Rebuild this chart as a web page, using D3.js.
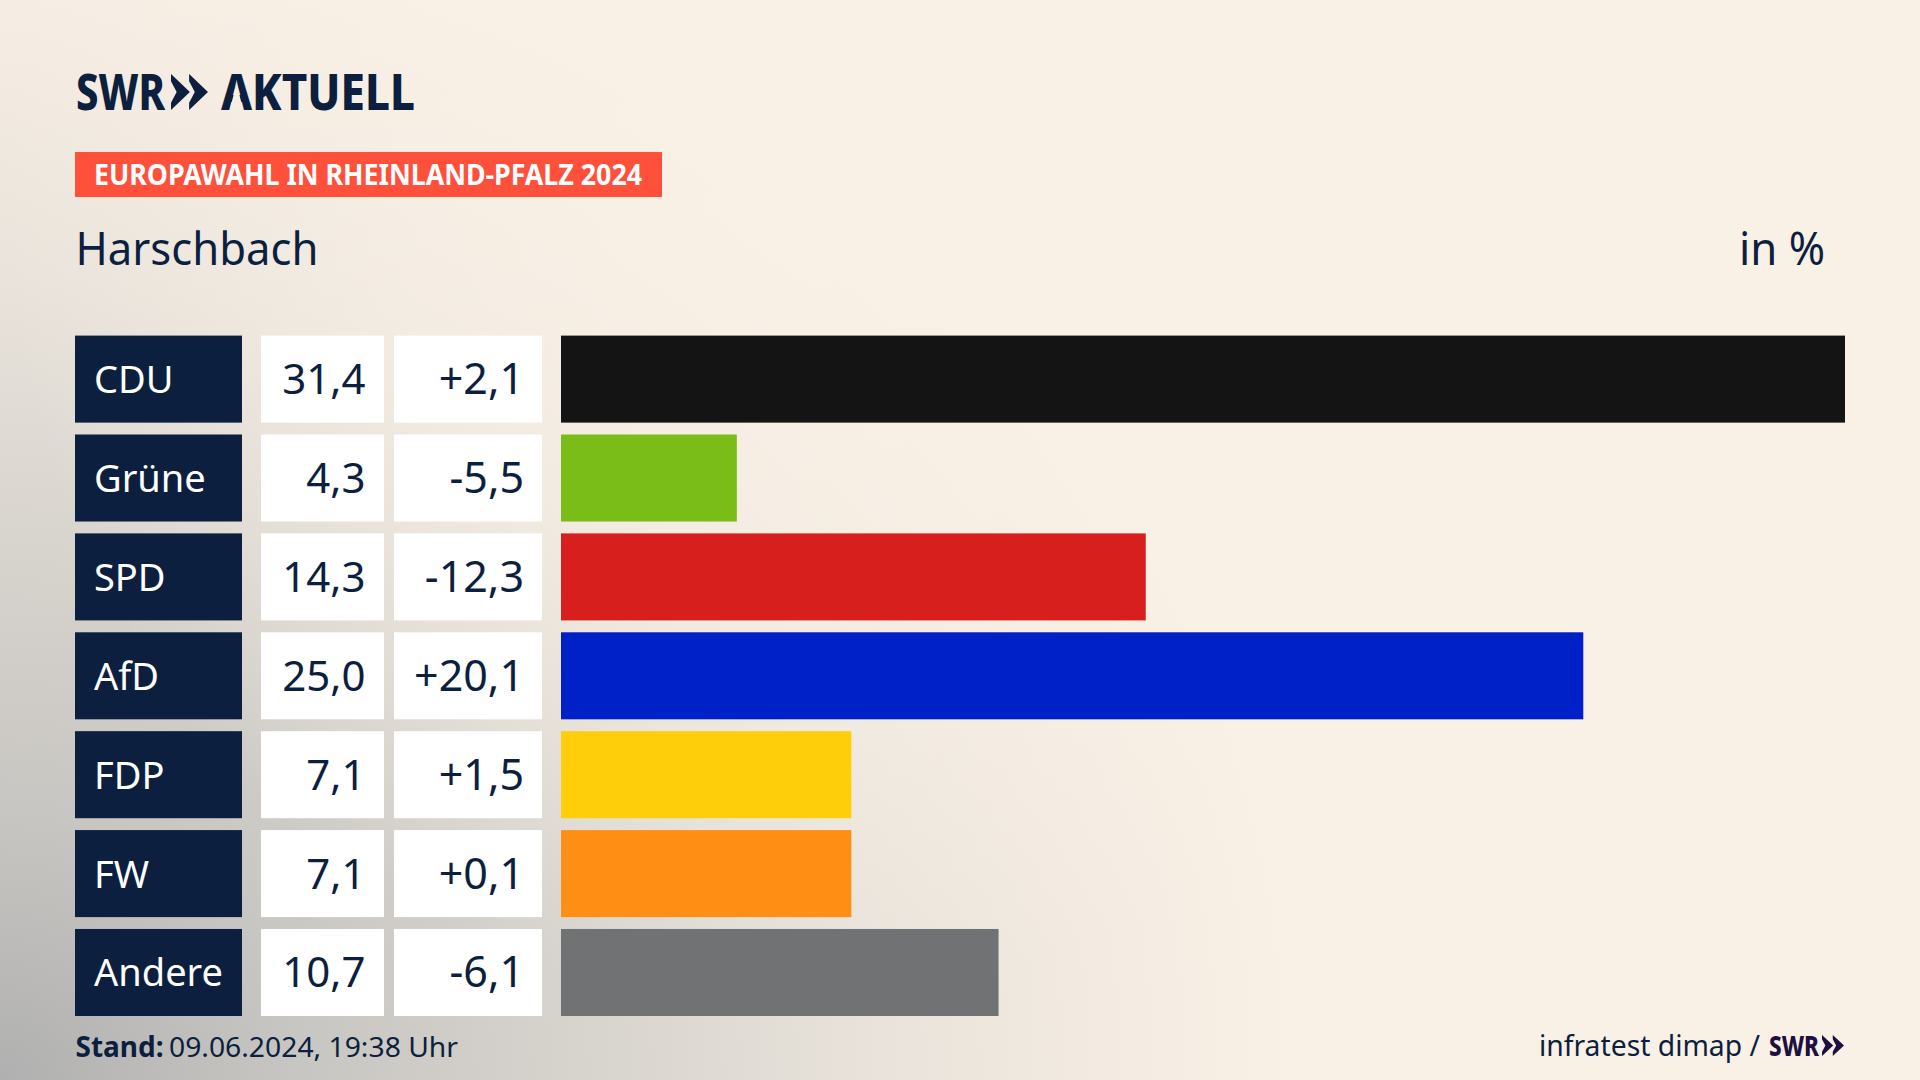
<!DOCTYPE html>
<html><head><meta charset="utf-8">
<script src="https://cdn.jsdelivr.net/npm/d3@7/dist/d3.min.js"></script>
<style>html,body{margin:0;padding:0;background:#f9f1e6;overflow:hidden}svg{display:block}text{font-family:"Noto Sans",sans-serif}</style>
</head><body>
<svg id="c" width="1920" height="1080"></svg>
<script>
const parties = ["CDU","Grüne","SPD","AfD","FDP","FW","Andere"];
const shares = [31.4,4.3,14.3,25.0,7.1,7.1,10.7];
const changes = ["+2,1","-5,5","-12,3","+20,1","+1,5","+0,1","-6,1"];
const colours = ["#141414","#7bbd18","#d7201e","#0020c8","#ffce0a","#ff8e15","#707274"];
const navy = "#0c1f3f";
const paper = "#f9f1e6";
const fmt = v => v.toFixed(1).replace(".", ",");

const svg = d3.select("#c");
const defs = svg.append("defs");
const g1 = defs.append("radialGradient").attr("id","bg1").attr("gradientUnits","userSpaceOnUse")
  .attr("cx",0).attr("cy",0).attr("r",1)
  .attr("gradientTransform","translate(0,1080) scale(1300,1180)");
[[0,"#b0b0b0"],[0.23,"#c8c6c2"],[0.46,"#d8d4ce"],[0.68,"#e9e3db"],[0.85,"#f3ebe1"],[1,paper]]
  .forEach(s=>g1.append("stop").attr("offset",s[0]).attr("stop-color",s[1]));
const g2 = defs.append("radialGradient").attr("id","bg2").attr("gradientUnits","userSpaceOnUse")
  .attr("cx",800).attr("cy",200).attr("r",800);
[[0,0.9],[0.5,0.6],[1,0]]
  .forEach(s=>g2.append("stop").attr("offset",s[0]).attr("stop-color",paper).attr("stop-opacity",s[1]));
svg.append("rect").attr("width",1920).attr("height",1080).attr("fill","url(#bg1)");
svg.append("rect").attr("width",1920).attr("height",1080).attr("fill","url(#bg2)");

const y = d3.scaleBand().domain(parties).range([335.6,1016]).paddingInner(0.12);
const x = d3.scaleLinear().domain([0,31.4]).range([561,1845]);

const chev = (x0,top,h,w,col) => {
  [0,1].forEach(i=>{
    const p=d3.path(), X=x0+i*w*0.49, s=w*0.51;
    p.moveTo(X,top); p.lineTo(X+s,top+h/2); p.lineTo(X,top+h); p.lineTo(X,top+h*0.8);
    p.lineTo(X+s*0.3,top+h/2); p.lineTo(X,top+h*0.2); p.closePath();
    svg.append("path").attr("d",p.toString()).attr("fill",col);
  });
};
const txt = (s,xp,yp,size,col,opts={}) => {
  const t = svg.append("text").attr("x",xp).attr("y",yp).attr("font-size",size).attr("fill",col)
    .attr("text-anchor",opts.anchor||"start").attr("font-weight",opts.weight||400).text(s);
  if(opts.len) t.attr("textLength",opts.len).attr("lengthAdjust","spacingAndGlyphs");
  return t;
};

// header
txt("SWR",76,110,50,navy,{weight:800,len:89});
chev(171,74,36,37,navy);
txt("AKTUELL",221,110,50,navy,{weight:800,len:194});
const notch = d3.path();
notch.moveTo(236.5,84); notch.lineTo(243.5,110.5); notch.lineTo(229.5,110.5); notch.closePath();
svg.append("path").attr("d",notch.toString()).attr("fill","#f6eee4");
svg.append("rect").attr("x",75).attr("y",152).attr("width",587).attr("height",45).attr("fill","#ff503c");
txt("EUROPAWAHL IN RHEINLAND-PFALZ 2024",94,185,28,"#fff",{weight:700,len:548});
txt("Harschbach",75.5,265,45,navy,{len:243});
txt("in %",1825,265,45,navy,{anchor:"end",len:86});

// rows
const rows = svg.selectAll("g.row").data(parties).join("g").attr("class","row");
rows.append("rect").attr("x",75).attr("width",167).attr("y",d=>y(d)).attr("height",y.bandwidth()).attr("fill",navy);
rows.append("rect").attr("x",261).attr("width",123).attr("y",d=>y(d)).attr("height",y.bandwidth()).attr("fill","#fff");
rows.append("rect").attr("x",394).attr("width",148).attr("y",d=>y(d)).attr("height",y.bandwidth()).attr("fill","#fff");
rows.append("rect").attr("x",x(0)).attr("y",d=>y(d)).attr("height",y.bandwidth())
  .attr("width",(d,i)=>x(shares[i])-x(0)).attr("fill",(d,i)=>colours[i]);
const base = d => y(d)+y.bandwidth()/2+14;
const baseNum = d => base(d)+1;
rows.append("text").attr("x",94).attr("y",base).attr("font-size",38).attr("fill","#fff").text(d=>d);
rows.append("text").attr("x",365.5).attr("y",baseNum).attr("font-size",42).attr("fill",navy).attr("text-anchor","end").text((d,i)=>fmt(shares[i]));
rows.append("text").attr("x",524).attr("y",baseNum).attr("font-size",43).attr("fill",navy).attr("text-anchor","end").text((d,i)=>changes[i]);

// footer
txt("Stand:",75.5,1057,28,navy,{weight:700,len:88});
txt("09.06.2024, 19:38 Uhr",169,1057,28,navy,{len:289});
txt("infratest dimap /",1539,1056,29,navy,{len:221});
txt("SWR",1769,1056,28,"#1e0f40",{weight:800,len:50});
chev(1822,1035,21,22,"#1e0f40");
</script>
</body></html>
